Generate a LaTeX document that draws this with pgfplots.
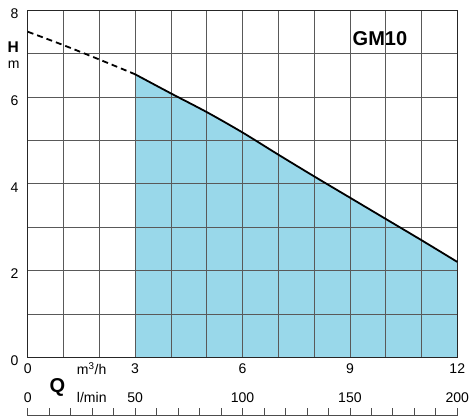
\documentclass[border=0pt]{standalone}
\usepackage{pgfplots}
\pgfplotsset{compat=1.18}
\usepackage{fontspec}
\setmainfont{Liberation Sans}
\definecolor{curvefill}{RGB}{153,216,234}

\begin{document}
\begin{tikzpicture}
  \begin{axis}[
      name=main, scale only axis, width=429pt, height=347pt,
      xmin=0, xmax=12, ymin=0, ymax=8,
      xtick={0,...,12}, ytick={0,...,8},
      xticklabels={0,,,3,,,6,,,9,,,12},
      yticklabels={0,,2,,4,,6,,8},
      major tick length=0pt,
      grid=major,
      grid style={black!65, line width=0.6pt},
      axis line style={black!85, line width=1pt},
      ticklabel style={font=\fontsize{14}{16}\selectfont},
      xticklabel style={yshift=-3pt},
      yticklabel style={xshift=-5.7pt, yshift=-3.5pt},
      /pgf/number format/assume math mode=true,
      set layers, clip=false,
    ]
    % operating range (filled)
    \addplot[fill=curvefill, draw=none, smooth, on layer=axis background]
      coordinates {(3,6.52) (4,6.08) (5,5.65) (6,5.18) (7,4.67) (8,4.17) (9,3.68) (10,3.19) (11,2.70) (12,2.20)} \closedcycle;
    % curve outside range
    \addplot[black, line width=1.8pt, dash pattern=on 6pt off 4pt, smooth]
      coordinates {(0,7.50) (1,7.19) (2,6.86) (3,6.52)};
    \addplot[black, line width=1.8pt, smooth]
      coordinates {(3,6.52) (4,6.08) (5,5.65) (6,5.18) (7,4.67) (8,4.17) (9,3.68) (10,3.19) (11,2.70) (12,2.20)};

    \node[anchor=base, font=\fontsize{20}{22}\selectfont\bfseries] at (axis cs:9.84,7.19) {GM10};
    \node[font=\fontsize{15.5}{18}\selectfont\bfseries] at ([xshift=-14.4pt]axis cs:0,7.135) {H};
    \node[font=\fontsize{14}{16}\selectfont] at ([xshift=-13.9pt]axis cs:0,6.75) {m};

    % flow units, two rows
    \node[anchor=base west, inner sep=0pt, font=\fontsize{14}{16}\selectfont] at ([yshift=-17.5pt]axis cs:1.37,0) {m\textsuperscript{3}/h};
    \node[anchor=base west, inner sep=0pt, font=\fontsize{14}{16}\selectfont] at ([yshift=-44.5pt]axis cs:1.37,0) {l/min};
    \node[anchor=base, font=\fontsize{20}{22}\selectfont\bfseries] at ([yshift=-35pt]axis cs:0.83,0) {Q};
    \node[anchor=base, font=\fontsize{14}{16}\selectfont] at ([yshift=-44.5pt]axis cs:0,0) {0};
    \node[anchor=base, font=\fontsize{14}{16}\selectfont] at ([yshift=-44.5pt]axis cs:3,0) {50};
    \node[anchor=base, font=\fontsize{14}{16}\selectfont] at ([yshift=-44.5pt]axis cs:6,0) {100};
    \node[anchor=base, font=\fontsize{14}{16}\selectfont] at ([yshift=-44.5pt]axis cs:9,0) {150};
    \node[anchor=base, font=\fontsize{14}{16}\selectfont] at ([yshift=-44.5pt]axis cs:12,0) {200};
  \end{axis}

  % l/min ruler under the chart
  \draw[black!70, line width=0.9pt] ([yshift=-58pt]main.south west) -- ([yshift=-58pt]main.south east);
  \foreach \i in {0,...,20}
    \draw[black!70, line width=0.8pt] ([shift={(\i*21.45pt,-58pt)}]main.south west) -- ++(0,8pt);

  \pgfresetboundingbox
  \path ([shift={(-27.7pt,-59.5pt)}]main.south west) rectangle ([shift={(15.7pt,10pt)}]main.north east);
\end{tikzpicture}
\end{document}
